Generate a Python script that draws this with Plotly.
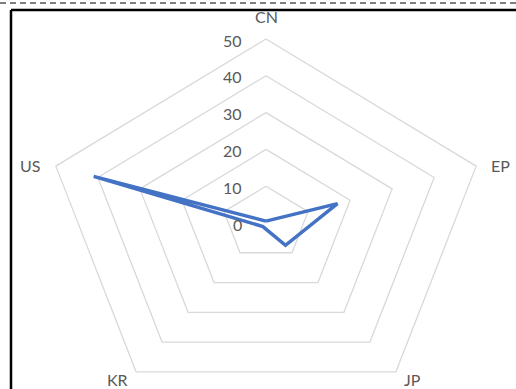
import numpy as np
import plotly.graph_objects as go

# Radar data: one series across five offices
categories = ["CN", "EP", "JP", "KR", "US"]
values = [0.5, 17, 7.5, 1.2, 41]
ring_levels = [10, 20, 30, 40, 50]
tick_values = [0, 10, 20, 30, 40, 50]
tick_labels = ["0", "10", "20", "30", "40", "50"]

W, H = 516, 389
LINE_COLOR = "#4472C4"
GRID_COLOR = "#d9d9d9"
TEXT_COLOR = "#595959"
FONT = "Lato, 'Open Sans', sans-serif"

n = len(categories)
theta = np.arange(n) * 2 * np.pi / n  # clockwise from the top


def to_xy(r):
    r = np.asarray(r, dtype=float)
    return r * np.sin(theta), r * np.cos(theta)


fig = go.Figure()

# Pentagonal gridlines
for lvl in ring_levels:
    gx, gy = to_xy([lvl] * n)
    fig.add_trace(go.Scatter(
        x=list(gx) + [gx[0]], y=list(gy) + [gy[0]], mode="lines",
        line=dict(color=GRID_COLOR, width=1.3), hoverinfo="skip", showlegend=False,
    ))

# Data polygon
vx, vy = to_xy(values)
fig.add_trace(go.Scatter(
    x=list(vx) + [vx[0]], y=list(vy) + [vy[0]], mode="lines",
    line=dict(color=LINE_COLOR, width=3.5), showlegend=False,
    text=categories + [categories[0]], hovertemplate="%{text}: %{customdata}<extra></extra>",
    customdata=values + [values[0]],
))

annotations = []
# Radial tick labels along the top spoke
for v, t in zip(tick_values, tick_labels):
    annotations.append(dict(
        x=0, y=v, text=t, showarrow=False, xanchor="right", yanchor="middle",
        xshift=-22, yshift=-1, font=dict(family=FONT, size=16, color=TEXT_COLOR),
    ))

# Category labels just outside the outer ring
label_shift = {"CN": (0, 23), "EP": (24, 1), "JP": (17, -8), "KR": (-19, -8), "US": (-26, 1)}
ox, oy = to_xy([ring_levels[-1]] * n)
for c, x, y in zip(categories, ox, oy):
    dx, dy = label_shift[c]
    annotations.append(dict(
        x=x, y=y, text=c, showarrow=False, xanchor="center", yanchor="middle",
        xshift=dx, yshift=dy, font=dict(family=FONT, size=16, color=TEXT_COLOR),
    ))

# Plot-area scale: centre at (266, 223) px, 4.42 px/unit across, 3.68 px/unit down
cx, cy, sx, sy = 266, 223, 4.42, 3.68
xrange = [-cx / sx, (W - cx) / sx]
yrange = [-(H - cy) / sy, cy / sy]

shapes = [
    # dashed rule along the top edge
    dict(type="line", xref="paper", yref="paper", x0=0, x1=1,
         y0=1 - 3 / H, y1=1 - 3 / H, line=dict(color="#555555", width=1.5, dash="6px,4px")),
    # chart frame (top and left edges)
    dict(type="line", xref="paper", yref="paper", x0=11 / W, x1=1,
         y0=1 - 10 / H, y1=1 - 10 / H, line=dict(color="black", width=2.5)),
    dict(type="line", xref="paper", yref="paper", x0=11 / W, x1=11 / W,
         y0=0, y1=1 - 10 / H, line=dict(color="black", width=2.5)),
]

fig.update_layout(
    width=W, height=H, margin=dict(l=0, r=0, t=0, b=0),
    paper_bgcolor="white", plot_bgcolor="white",
    xaxis=dict(range=xrange, visible=False, fixedrange=True),
    yaxis=dict(range=yrange, visible=False, fixedrange=True),
    annotations=annotations, shapes=shapes, showlegend=False,
)

fig.write_html("out.html")
